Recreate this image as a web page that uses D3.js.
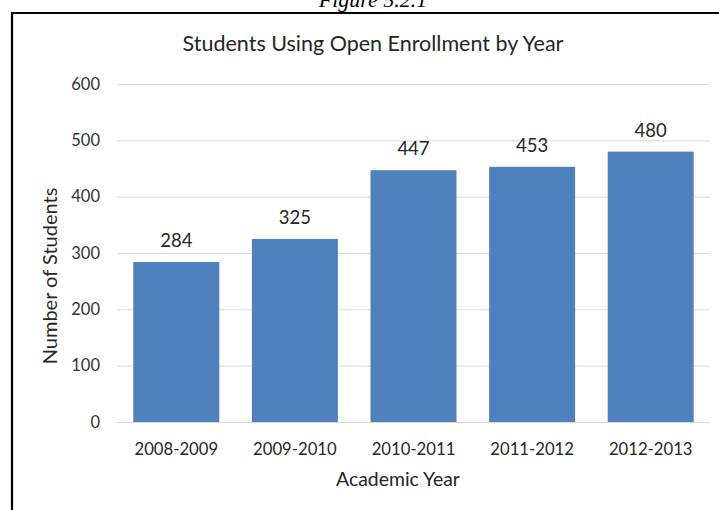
<!DOCTYPE html>
<html>
<head>
<meta charset="utf-8">
<script src="https://cdn.jsdelivr.net/npm/d3@7"></script>
<style>
  html, body { margin: 0; padding: 0; background: #fff; }
  svg { display: block; }
  text { font-family: Lato, "Open Sans", sans-serif; }
</style>
</head>
<body>
<svg id="chart" width="719" height="510"></svg>
<script>
// Academic years and enrollment counts
const years = ["2008-2009", "2009-2010", "2010-2011", "2011-2012", "2012-2013"];
const students = [284, 325, 447, 453, 480];
const yTicks = [0, 100, 200, 300, 400, 500, 600];

const svg = d3.select("#chart");
const W = 719, H = 510;
const plot = { left: 117, right: 710, top: 84, bottom: 422 };

const x = d3.scaleBand()
  .domain(years)
  .range([plot.left, plot.right])
  .paddingInner(0.275)
  .paddingOuter(0.1375);

const y = d3.scaleLinear()
  .domain([0, 600])
  .range([plot.bottom, plot.top]);

// Figure caption, partly above the page edge
svg.append("text")
  .attr("x", 373).attr("y", 7)
  .attr("text-anchor", "middle")
  .style("font-family", "'Liberation Serif', 'Times New Roman', serif")
  .style("font-style", "italic")
  .style("font-size", "22px")
  .attr("fill", "#000")
  .text("Figure 5.2.1");

// Frame around the chart
svg.append("path")
  .attr("d", `M12,${H} L12,13 L${W},13`)
  .attr("fill", "none")
  .attr("stroke", "#000")
  .attr("stroke-width", 2.2);

// Horizontal gridlines + y tick labels
const yAxis = d3.axisLeft(y)
  .tickValues(yTicks)
  .tickSize(-(plot.right - plot.left))
  .tickPadding(17);

const gy = svg.append("g")
  .attr("transform", `translate(${plot.left},0)`)
  .call(yAxis);
gy.select(".domain").remove();
gy.selectAll(".tick line").attr("stroke", "#d9d9d9").attr("stroke-width", 1);
gy.selectAll(".tick text")
  .attr("fill", "#333")
  .style("font-family", "Lato, sans-serif")
  .style("font-size", "16.5px");

// Bars
svg.append("g").selectAll("rect")
  .data(years)
  .join("rect")
  .attr("x", d => x(d))
  .attr("width", x.bandwidth())
  .attr("y", (d, i) => y(students[i]))
  .attr("height", (d, i) => y(0) - y(students[i]))
  .attr("fill", "#4f81bd");

// Value labels
svg.append("g").selectAll("text")
  .data(years)
  .join("text")
  .attr("x", d => x(d) + x.bandwidth() / 2)
  .attr("y", (d, i) => y(students[i]) - 15)
  .attr("text-anchor", "middle")
  .attr("fill", "#262626")
  .style("font-size", "18.5px")
  .text((d, i) => students[i]);

// Category axis
const xAxis = d3.axisBottom(x).tickSize(0).tickPadding(24);
const gx = svg.append("g")
  .attr("transform", `translate(0,${plot.bottom})`)
  .call(xAxis);
gx.select(".domain").attr("stroke", "#d9d9d9").attr("d", `M${plot.left},0.5H${plot.right}`);
gx.selectAll(".tick text")
  .attr("fill", "#262626")
  .style("font-family", "Lato, sans-serif")
  .style("font-size", "16.7px")
  .attr("dy", null)
  .attr("y", 33);

// Chart title
svg.append("text")
  .attr("x", 373).attr("y", 51)
  .attr("text-anchor", "middle")
  .attr("fill", "#262626")
  .style("font-size", "21.5px")
  .text("Students Using Open Enrollment by Year");

// Axis titles
svg.append("text")
  .attr("x", 398).attr("y", 486)
  .attr("text-anchor", "middle")
  .attr("fill", "#262626")
  .style("font-size", "19.4px")
  .text("Academic Year");

svg.append("text")
  .attr("transform", "translate(57,276) rotate(-90)")
  .attr("text-anchor", "middle")
  .attr("fill", "#262626")
  .style("font-size", "20px")
  .text("Number of Students");
</script>
</body>
</html>
